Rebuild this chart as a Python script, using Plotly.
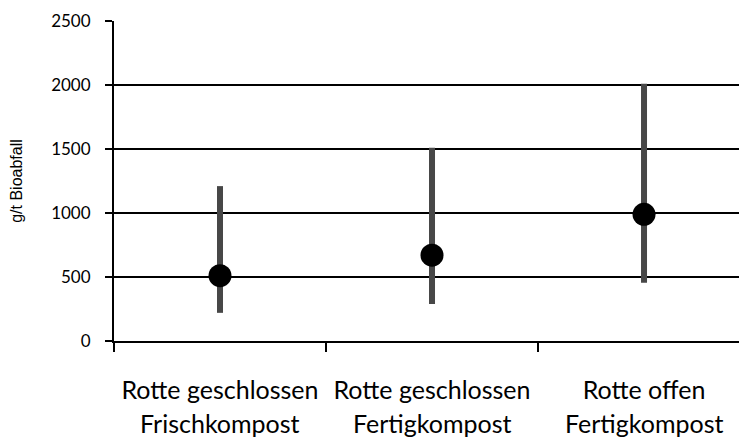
import plotly.graph_objects as go

# Emission ranges per composting variant (g per tonne of bio-waste)
process = ["Rotte geschlossen", "Rotte geschlossen", "Rotte offen"]
product = ["Frischkompost", "Fertigkompost", "Fertigkompost"]
mean_values = [510, 670, 990]
range_max = [1210, 1510, 2010]
range_min = [220, 290, 455]

categories = [f"{p} {k}" for p, k in zip(process, product)]
err_plus = [hi - m for hi, m in zip(range_max, mean_values)]
err_minus = [m - lo for lo, m in zip(range_min, mean_values)]

fig = go.Figure()
fig.add_trace(go.Scatter(
    x=categories,
    y=mean_values,
    mode="markers",
    marker=dict(size=23, color="black"),
    error_y=dict(
        type="data",
        symmetric=False,
        array=err_plus,
        arrayminus=err_minus,
        thickness=6,
        width=0,
        color="#474747",
    ),
    showlegend=False,
))

# second line of each category label, wider spaced than tick text allows
for cat, k in zip(categories, product):
    fig.add_annotation(
        x=cat, xref="x",
        y=-0.256, yref="paper",
        yanchor="middle",
        text=k,
        showarrow=False,
        font=dict(family="Lato", size=25, color="black"),
    )

fig.update_layout(
    width=739,
    height=439,
    margin=dict(l=114, r=0, t=21, b=98),
    paper_bgcolor="white",
    plot_bgcolor="white",
    font=dict(family="Lato", color="black"),
)

fig.update_xaxes(
    type="category",
    range=[-0.5, 2.448],
    tickvals=categories,
    ticktext=process,
    showline=True,
    linecolor="black",
    linewidth=2,
    ticks="outside",
    tickson="boundaries",
    ticklen=9,
    tickwidth=1.5,
    tickcolor="black",
    showgrid=False,
    tickfont=dict(family="Lato", size=25, color="black"),
    ticklabelstandoff=26,
)

fig.update_yaxes(
    range=[0, 2500],
    tickvals=[0, 500, 1000, 1500, 2000, 2500],
    showline=True,
    linecolor="black",
    linewidth=2,
    ticks="outside",
    ticklen=7,
    tickwidth=1.5,
    tickcolor="black",
    showgrid=True,
    gridcolor="black",
    gridwidth=1.5,
    zeroline=False,
    tickfont=dict(family="Lato", size=17, color="black"),
    ticklabelstandoff=11,
    title=dict(
        text="g/t Bioabfall",
        font=dict(family="Liberation Sans", size=16, color="black"),
        standoff=25,
    ),
)

fig.write_html("out.html")
